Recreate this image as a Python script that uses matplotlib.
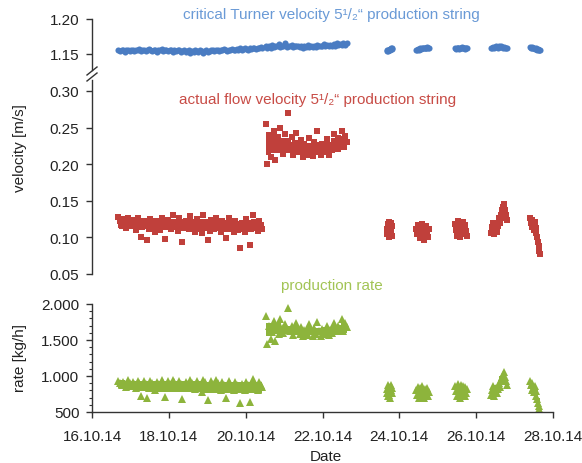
import matplotlib
matplotlib.use("Agg")
import matplotlib.pyplot as plt
import matplotlib.dates as mdates
from matplotlib.lines import Line2D
from matplotlib.ticker import FuncFormatter, MultipleLocator
import pandas as pd

plt.rcParams['font.family'] = ['Liberation Sans', 'DejaVu Sans']

# time windows of the measurement runs (start, end)
runs = [("2014-10-16 16:30", "2014-10-20 10:30"),
        ("2014-10-20 12:30", "2014-10-22 15:00"),
        ("2014-10-23 16:00", "2014-10-23 19:30"),
        ("2014-10-24 10:30", "2014-10-24 18:30"),
        ("2014-10-25 11:00", "2014-10-25 18:15"),
        ("2014-10-26 09:20", "2014-10-26 19:10"),
        ("2014-10-27 09:40", "2014-10-27 16:00")]

# critical Turner velocity [m/s]
turner_1 = [1.155,1.154,1.156,1.155,1.153,1.156,1.155,1.154,1.156,1.155,
            1.154,1.156,1.155,1.157,1.154,1.155,1.156,1.154,1.155,1.157,
            1.155,1.154,1.156,1.155,1.153,1.156,1.155,1.157,1.154,1.155,
            1.156,1.154,1.155,1.156,1.153,1.155,1.154,1.156,1.155,1.153,
            1.154,1.155,1.153,1.154,1.155,1.152,1.154,1.153,1.155,1.154,
            1.153,1.155,1.154,1.152,1.154,1.155,1.153,1.154,1.156,1.155,
            1.154,1.156,1.155,1.154,1.156,1.155,1.157,1.155,1.154,1.156,
            1.155,1.157,1.156,1.155,1.157,1.156,1.158,1.156,1.157,1.159,
            1.157,1.156,1.158,1.157,1.159,1.158,1.157,1.159,1.158,1.160,1.158]
turner_2 = [1.161,1.158,1.162,1.159,1.163,1.160,1.162,1.161,1.164,1.160,
            1.162,1.161,1.165,1.160,1.162,1.161,1.163,1.160,1.162,1.161,
            1.161,1.160,1.162,1.159,1.161,1.160,1.163,1.160,1.161,1.160,
            1.162,1.160,1.163,1.161,1.162,1.161,1.164,1.161,1.163,1.162,
            1.163,1.162,1.164,1.162,1.165,1.163,1.164,1.163,1.166,1.163,1.165]
turner_3 = [1.154,1.155,1.154,1.156,1.155,1.156,1.157,1.156,1.157,1.158,1.157,1.158]
turner_4 = [1.155,1.156,1.157,1.156,1.157,1.158,1.157,1.158,1.159,1.158,1.159,1.158,
            1.159,1.160,1.159,1.159]
turner_5 = [1.158,1.157,1.158,1.159,1.158,1.157,1.158,1.159,1.160,1.159,1.158,1.159,
            1.158,1.157,1.158,1.159]
turner_6 = [1.158,1.159,1.160,1.159,1.160,1.161,1.160,1.159,1.160,1.161,1.160,1.161,
            1.160,1.159,1.160,1.159,1.158,1.159]
turner_7 = [1.160,1.159,1.160,1.158,1.159,1.158,1.157,1.158,1.157,1.156,1.157,1.156,
            1.155,1.156]

# dense core of the Turner velocity readings (low / high)
turner_lo = [[1.1540,1.1542,1.1540,1.1535,1.1532,1.1535,1.1540,1.1545,1.1555,1.1565],
             [1.1595,1.1600,1.1600,1.1598,1.1600,1.1605,1.1615,1.1625],
             [1.1548,1.1560], [1.1560,1.1575], [1.1575,1.1578], [1.1590,1.1595],
             [1.1585,1.1565]]
turner_hi = [[1.1560,1.1562,1.1560,1.1555,1.1552,1.1555,1.1560,1.1565,1.1575,1.1585],
             [1.1625,1.1625,1.1620,1.1615,1.1620,1.1625,1.1635,1.1645],
             [1.1558,1.1572], [1.1575,1.1590], [1.1590,1.1590], [1.1605,1.1605],
             [1.1598,1.1580]]

# actual flow velocity [m/s]
flow_1 = [0.128,0.122,0.116,0.125,0.119,0.113,0.127,0.121,0.115,0.124,
          0.118,0.110,0.126,0.120,0.100,0.114,0.123,0.117,0.096,0.111,
          0.125,0.119,0.113,0.107,0.122,0.116,0.110,0.127,0.120,0.098,
          0.114,0.124,0.118,0.112,0.131,0.121,0.115,0.109,0.126,0.119,
          0.094,0.113,0.123,0.117,0.111,0.129,0.120,0.114,0.108,0.125,
          0.118,0.112,0.106,0.130,0.121,0.115,0.096,0.109,0.124,0.118,
          0.112,0.127,0.120,0.114,0.108,0.123,0.117,0.099,0.111,0.126,
          0.119,0.113,0.107,0.122,0.116,0.110,0.086,0.120,0.114,0.108,
          0.125,0.118,0.090,0.112,0.131,0.121,0.115,0.109,0.123,0.117,0.111]
flow_2 = [0.255,0.200,0.240,0.210,0.228,0.246,0.206,0.235,0.219,0.250,
          0.226,0.214,0.241,0.232,0.270,0.220,0.237,0.213,0.229,0.243,
          0.224,0.216,0.233,0.210,0.227,0.219,0.213,0.236,0.224,0.211,
          0.230,0.217,0.245,0.222,0.212,0.228,0.216,0.221,0.234,0.213,
          0.226,0.219,0.241,0.231,0.222,0.236,0.228,0.245,0.223,0.238,0.230]
flow_3 = [0.112,0.104,0.118,0.108,0.100,0.121,0.114,0.106,0.119,0.110,0.102,0.116]
flow_4 = [0.112,0.104,0.117,0.109,0.099,0.114,0.106,0.118,0.110,0.097,0.113,0.105,
          0.116,0.108,0.101,0.111]
flow_5 = [0.118,0.110,0.102,0.122,0.114,0.106,0.100,0.119,0.111,0.104,0.121,0.113,
          0.105,0.117,0.109,0.102]
flow_6 = [0.106,0.114,0.120,0.104,0.110,0.117,0.108,0.115,0.122,0.126,0.119,0.131,
          0.137,0.142,0.146,0.138,0.130,0.124]
flow_7 = [0.127,0.120,0.114,0.124,0.117,0.110,0.121,0.113,0.106,0.100,0.094,0.088,
          0.082,0.077]

# dense core of the flow velocity readings (low / high)
flow_lo = [[0.113,0.112,0.111,0.110,0.110,0.109,0.110,0.109,0.109,0.108,0.109,0.109],
           [0.212,0.215,0.215,0.213,0.213,0.213,0.214,0.216,0.219],
           [0.104,0.106,0.106], [0.102,0.103,0.102], [0.103,0.104,0.104],
           [0.108,0.110,0.122,0.128], [0.114,0.108,0.092]]
flow_hi = [[0.128,0.127,0.126,0.126,0.125,0.125,0.125,0.124,0.124,0.123,0.124,0.124],
           [0.241,0.241,0.236,0.231,0.229,0.231,0.231,0.236,0.239],
           [0.116,0.118,0.118], [0.114,0.116,0.113], [0.119,0.118,0.117],
           [0.118,0.122,0.140,0.134], [0.124,0.118,0.100]]

# production rate [kg/h]
rate_1 = [930,900,870,915,885,850,940,905,875,920,
          890,830,935,900,720,860,925,895,700,840,
          930,900,865,810,920,885,850,940,905,710,
          860,925,890,840,950,910,875,830,935,895,
          680,850,920,885,840,945,905,865,820,930,
          895,855,780,950,910,870,660,825,925,890,
          850,940,900,865,800,915,880,700,835,935,
          895,860,805,910,875,830,630,890,855,810,
          920,880,640,840,960,900,865,800,910,870,845]
rate_2 = [1830,1450,1700,1520,1610,1760,1490,1680,1580,1790,
          1660,1600,1720,1650,1940,1620,1700,1570,1640,1730,
          1620,1580,1680,1560,1640,1600,1570,1720,1630,1560,
          1660,1590,1750,1620,1560,1650,1590,1610,1700,1570,
          1640,1600,1730,1670,1620,1700,1650,1790,1630,1740,1680]
rate_3 = [820,760,720,870,790,740,850,700,810,880,760,830]
rate_4 = [800,740,850,700,780,830,720,860,760,700,820,740,790,840,720,780]
rate_5 = [860,790,720,890,820,750,700,880,810,740,860,790,720,850,770,820]
rate_6 = [740,800,860,720,780,840,760,820,880,900,850,940,980,1020,1050,990,930,880]
rate_7 = [930,870,810,900,840,780,860,790,720,680,630,580,540,510]

# dense core of the production rate readings (low / high)
rate_lo = [[840,800,790,780,780,775,775,770,770,765,765,770],
           [1560,1590,1585,1575,1570,1565,1570,1585,1600],
           [740,750,760], [720,720,730], [730,740,740],
           [760,790,880,920], [820,760,620]]
rate_hi = [[945,935,930,930,925,925,925,920,915,915,915,910],
           [1730,1730,1700,1680,1670,1670,1680,1710,1740],
           [840,850,850], [830,830,810], [870,860,840],
           [850,880,1000,960], [900,840,700]]

turner = [turner_1, turner_2, turner_3, turner_4, turner_5, turner_6, turner_7]
flow = [flow_1, flow_2, flow_3, flow_4, flow_5, flow_6, flow_7]
rate = [rate_1, rate_2, rate_3, rate_4, rate_5, rate_6, rate_7]

blue = '#4a7cc2'
red = '#c0403b'
green = '#8db43c'
axcol = '#333333'

W, H = 582, 464
fig = plt.figure(figsize=(W / 100, H / 100), dpi=100)

def box(top, bottom):
    return [92 / W, 1 - bottom / H, (553 - 92) / W, (bottom - top) / H]

ax1 = fig.add_axes(box(20, 71))
ax2 = fig.add_axes(box(81, 275), sharex=ax1)
ax3 = fig.add_axes(box(300, 413), sharex=ax1)

def draw(ax, series, col, marker, ms, lo, hi):
    for i, ((s, e), vals) in enumerate(zip(runs, series)):
        tc = pd.date_range(s, e, periods=len(lo[i]))
        ax.fill_between(tc, lo[i], hi[i], step='mid', color=col, lw=0)
        t = pd.date_range(s, e, periods=len(vals))
        ax.plot(t, vals, linestyle='none', marker=marker, markersize=ms,
                color=col, markeredgewidth=0)

draw(ax1, turner, blue, 'o', 4.4, turner_lo, turner_hi)
draw(ax2, flow, red, 's', 4.7, flow_lo, flow_hi)
draw(ax3, rate, green, '^', 5.8, rate_lo, rate_hi)

ax1.set_ylim(1.150 - 16 / 700, 1.20)
ax1.set_yticks([1.15, 1.20])
ax1.yaxis.set_major_formatter(FuncFormatter(lambda v, p: f"{v:.2f}"))
ax1.spines['left'].set_bounds(1.150 - 16 / 700, 1.20)

ax2.set_ylim(0.05, 0.30 + 11 / 732)
ax2.set_yticks([0.05, 0.10, 0.15, 0.20, 0.25, 0.30])
ax2.yaxis.set_major_formatter(FuncFormatter(lambda v, p: f"{v:.2f}"))

ax3.set_ylim(500, 2000 + 5 / 0.072)
ax3.set_yticks([500, 1000, 1500, 2000])
ax3.yaxis.set_minor_locator(MultipleLocator(100))
ax3.yaxis.set_major_formatter(FuncFormatter(lambda v, p: f"{int(v):,}".replace(',', '.')))
ax3.spines['left'].set_bounds(500, 2000)

ax3.set_xlim(pd.Timestamp("2014-10-16"), pd.Timestamp("2014-10-28"))
ax3.xaxis.set_major_locator(mdates.DayLocator(interval=2))
ax3.xaxis.set_major_formatter(mdates.DateFormatter('%d.%m.%y'))

for ax in (ax1, ax2, ax3):
    ax.patch.set_alpha(0)
    for sp in ('top', 'right'):
        ax.spines[sp].set_visible(False)
    ax.spines['left'].set_color(axcol)
    ax.spines['left'].set_linewidth(1.0)
    ax.tick_params(axis='y', which='major', length=4, width=1.0, color=axcol,
                   labelsize=11, labelcolor='#222222', pad=5)
    ax.tick_params(axis='y', which='minor', length=2.5, width=0.8, color=axcol)
for ax in (ax1, ax2):
    ax.spines['bottom'].set_visible(False)
    ax.tick_params(axis='x', which='both', bottom=False, labelbottom=False)
ax3.spines['bottom'].set_color(axcol)
ax3.spines['bottom'].set_linewidth(1.0)
ax3.tick_params(axis='x', length=4, width=1.0, color=axcol, labelsize=11,
                labelcolor='#222222', pad=8)

# axis break marks
for y0 in (76, 82):
    fig.add_artist(Line2D([87 / W, 97 / W], [1 - y0 / H, 1 - (y0 - 8) / H],
                          transform=fig.transFigure, color=axcol, lw=1.0))

fig.text(331 / W, 1 - 15 / H, "critical Turner velocity 5\u00b9/\u2082\u201c production string",
         color='#6a9ad6', fontsize=11, ha='center', va='center')
fig.text(318 / W, 1 - 100 / H, "actual flow velocity 5\u00b9/\u2082\u201c production string",
         color='#c84c46', fontsize=11, ha='center', va='center')
fig.text(332 / W, 1 - 286 / H, "production rate",
         color='#a2c455', fontsize=11, ha='center', va='center')

fig.text(20 / W, 1 - 148 / H, "velocity [m/s]", rotation=90, fontsize=11,
         color='#222222', ha='center', va='center')
fig.text(20 / W, 1 - 358 / H, "rate [kg/h]", rotation=90, fontsize=11,
         color='#222222', ha='center', va='center')
fig.text(326 / W, 1 - 457 / H, "Date", fontsize=11, color='#222222',
         ha='center', va='center')

fig.savefig("out.png", dpi=100)
